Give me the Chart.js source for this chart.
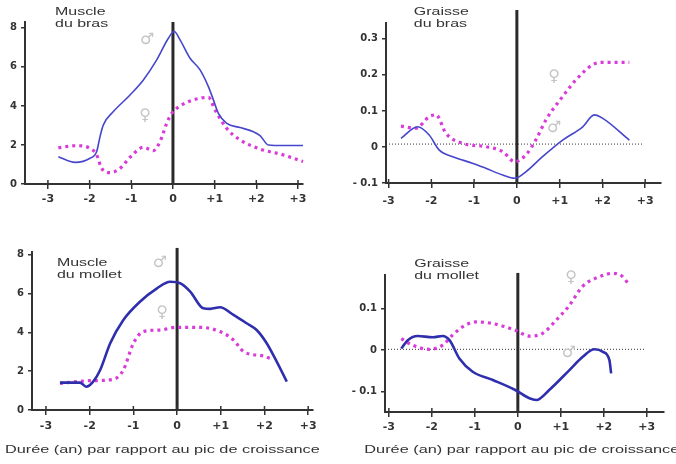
<!DOCTYPE html>
<html lang="fr">
  <head>
    <meta charset="UTF-8" />
    <script src="https://cdn.jsdelivr.net/npm/chart.js@4.4.0/dist/chart.umd.min.js"></script>
    <style>
      body { margin: 0; background: #fff; }
      #page { position: relative; width: 676px; height: 464px; overflow: hidden; }
      .panneau { position: absolute; width: 338px; height: 232px; }
    </style>
  </head>
  <body>
    <div id="page">
      <div class="panneau" style="left:0;top:0"><canvas id="c-muscle-bras"></canvas></div>
      <div class="panneau" style="left:338px;top:0"><canvas id="c-graisse-bras"></canvas></div>
      <div class="panneau" style="left:0;top:232px"><canvas id="c-muscle-mollet"></canvas></div>
      <div class="panneau" style="left:338px;top:232px"><canvas id="c-graisse-mollet"></canvas></div>
    </div>

    <script>
// --- données (x = années par rapport au pic de croissance) ---

// Muscle du bras
var muscleBrasGarconsX = [-2.75, -2.35, -1.99, -1.83, -1.75, -1.67, -1.43, -1.03, -0.71, -0.39, -0.11, 0.03, 0.17, 0.41, 0.65, 0.85, 0.97, 1.09, 1.29, 1.61, 1.93, 2.09, 2.29, 2.65, 3.12];
var muscleBrasGarconsY = [1.4, 1.11, 1.32, 1.66, 2.43, 3.03, 3.71, 4.56, 5.33, 6.36, 7.47, 7.81, 7.38, 6.44, 5.85, 4.99, 4.31, 3.62, 3.11, 2.89, 2.68, 2.48, 2.0, 1.97, 1.97];
var muscleBrasFillesX = [-2.75, -2.31, -1.99, -1.83, -1.71, -1.51, -1.27, -1.03, -0.71, -0.47, -0.31, -0.15, -0.03, 0.17, 0.49, 0.85, 1.01, 1.29, 1.61, 2.09, 2.65, 3.12];
var muscleBrasFillesY = [1.86, 1.96, 1.83, 1.49, 0.8, 0.58, 0.8, 1.37, 1.88, 1.71, 2.17, 3.11, 3.62, 4.0, 4.31, 4.44, 3.79, 2.85, 2.26, 1.79, 1.49, 1.15];

// Graisse du bras
var graisseBrasGarconsX = [-2.71, -2.32, -2.05, -1.82, -1.5, -1.04, -0.73, -0.33, -0.05, 0.21, 0.6, 1.07, 1.54, 1.81, 2.0, 2.63];
var graisseBrasGarconsY = [0.024, 0.056, 0.033, -0.008, -0.027, -0.045, -0.059, -0.078, -0.087, -0.069, -0.027, 0.019, 0.056, 0.089, 0.08, 0.019];
var graisseBrasFillesX = [-2.71, -2.36, -2.05, -1.89, -1.66, -1.27, -0.73, -0.33, -0.05, 0.21, 0.44, 0.68, 1.07, 1.38, 1.77, 2.0, 2.63];
var graisseBrasFillesY = [0.058, 0.052, 0.084, 0.089, 0.038, 0.01, 0.001, -0.013, -0.041, -0.022, 0.019, 0.075, 0.14, 0.186, 0.228, 0.235, 0.235];

// Muscle du mollet
var muscleMolletGarconsX = [-2.68, -2.22, -2.08, -1.92, -1.76, -1.53, -1.23, -0.85, -0.46, -0.16, 0.07, 0.3, 0.6, 0.76, 0.98, 1.29, 1.59, 1.82, 2.05, 2.28, 2.51];
var muscleMolletGarconsY = [1.41, 1.41, 1.2, 1.46, 2.06, 3.44, 4.64, 5.58, 6.27, 6.61, 6.53, 6.1, 5.24, 5.21, 5.29, 4.9, 4.47, 4.12, 3.44, 2.49, 1.46];
var muscleMolletFillesX = [-2.68, -1.99, -1.46, -1.23, -1.0, -0.77, -0.39, -0.01, 0.53, 0.98, 1.29, 1.52, 1.97, 2.13];
var muscleMolletFillesY = [1.37, 1.51, 1.58, 2.06, 3.44, 4.04, 4.12, 4.26, 4.26, 4.04, 3.61, 3.01, 2.78, 2.66];

// Graisse du mollet
var graisseMolletGarconsX = [-2.71, -2.56, -2.33, -1.98, -1.75, -1.59, -1.36, -1.05, -0.58, -0.06, 0.27, 0.43, 0.73, 1.2, 1.51, 1.78, 1.98, 2.13, 2.17];
var graisseMolletGarconsY = [0.004, 0.024, 0.034, 0.031, 0.034, 0.024, -0.02, -0.052, -0.072, -0.096, -0.116, -0.12, -0.096, -0.048, -0.016, 0.002, -0.004, -0.024, -0.056];
var graisseMolletFillesX = [-2.71, -2.45, -2.06, -1.75, -1.52, -1.29, -0.97, -0.58, -0.06, 0.27, 0.57, 0.89, 1.2, 1.5, 1.9, 2.21, 2.44, 2.56];
var graisseMolletFillesY = [0.028, 0.012, 0.002, 0.012, 0.036, 0.056, 0.068, 0.064, 0.048, 0.034, 0.04, 0.072, 0.108, 0.153, 0.177, 0.185, 0.177, 0.161];

// graduations
var xTicks = [-3, -2, -1, 0, 1, 2, 3];
var titres = [["Muscle", "du bras"], ["Graisse", "du bras"], ["Muscle", "du mollet"], ["Graisse", "du mollet"]];
var titreAxe = "Durée (an) par rapport au pic de croissance";

// ligne pointillée y=0 (panneaux graisse)
var baseGraisseBrasX = [-3.06, 2.95];
var baseGraisseMolletX = [-3.09, 2.94];

var BLEU = "#4646cc";
var BLEU_FONCE = "#2f2fae";
var ROSE = "#d93ad9";
var GRIS_TEXTE = "#333";

function points(xs, ys) {
  return xs.map(function(x, i) { return { x: x, y: ys[i] }; });
}

// petits traits au-dessus de l'axe x (les graduations traversent l'axe)
var croixTicks = {
  id: "croixTicks",
  afterDraw: function(chart) {
    var sx = chart.scales.x, ctx = chart.ctx;
    ctx.save();
    ctx.strokeStyle = "#333";
    ctx.lineWidth = 1.5;
    sx.ticks.forEach(function(t) {
      var px = sx.getPixelForValue(t.value);
      ctx.beginPath();
      ctx.moveTo(px, sx.top - 4);
      ctx.lineTo(px, sx.top);
      ctx.stroke();
    });
    ctx.restore();
  }
};

// textes libres (titres, symboles, titre d'axe) placés en coordonnées de données
var textes = {
  id: "textes",
  afterDraw: function(chart, args, opts) {
    var ctx = chart.ctx, sx = chart.scales.x, sy = chart.scales.y;
    (opts.items || []).forEach(function(it) {
      ctx.save();
      ctx.font = it.font;
      ctx.fillStyle = it.color;
      ctx.textAlign = it.align || "left";
      ctx.textBaseline = it.baseline || "top";
      ctx.translate(sx.getPixelForValue(it.x), sy.getPixelForValue(it.y));
      ctx.scale(it.sx || 1, 1);
      it.lignes.forEach(function(l, i) { ctx.fillText(l, 0, i * (it.lh || 12)); });
      ctx.restore();
    });
  }
};

function fmtY(v) {
  if (Math.abs(v) < 1e-9) return "0";
  if (Number.isInteger(Math.round(v * 1000) / 1000) && Math.abs(v) >= 1) return String(Math.round(v));
  var s = Math.abs(v).toFixed(1);
  return v < 0 ? "- " + s : s;
}

function panneau(id, cfg) {
  var datasets = [
    {
      data: points(cfg.garconsX, cfg.garconsY),
      borderColor: cfg.bleu,
      borderWidth: cfg.largeurBleu,
      cubicInterpolationMode: "monotone",
      pointRadius: 0,
      clip: false,
      order: 1
    },
    {
      data: points(cfg.fillesX, cfg.fillesY),
      borderColor: ROSE,
      borderWidth: 3.2,
      borderDash: [3, 4],
      borderCapStyle: "butt",
      cubicInterpolationMode: "monotone",
      pointRadius: 0,
      clip: false,
      order: 2
    },
    {
      // trait vertical au pic de croissance
      data: [{ x: 0, y: cfg.yMin }, { x: 0, y: cfg.zeroHaut }],
      borderColor: "#2a2a2a",
      borderWidth: 3,
      pointRadius: 0,
      clip: false,
      order: 3
    }
  ];
  if (cfg.baseX) {
    datasets.push({
      data: [{ x: cfg.baseX[0], y: cfg.baseY }, { x: cfg.baseX[1], y: cfg.baseY }],
      borderColor: "#333",
      borderWidth: 1,
      borderDash: [1, 2],
      pointRadius: 0,
      order: 4
    });
  }

  var items = [
    { lignes: cfg.titre, x: cfg.titrePos[0], y: cfg.titrePos[1], font: "11px 'Liberation Sans', Arial", color: GRIS_TEXTE, sx: 1.45, lh: 12 },
    { lignes: ["\u2642"], x: cfg.male[0], y: cfg.male[1], font: "16px 'DejaVu Sans'", color: "#c4c4c4", align: "center", baseline: "middle" },
    { lignes: ["\u2640"], x: cfg.femelle[0], y: cfg.femelle[1], font: "16px 'DejaVu Sans'", color: "#c4c4c4", align: "center", baseline: "middle" }
  ];
  if (cfg.axePos) {
    items.push({ lignes: [titreAxe], x: cfg.axePos[0], y: cfg.axePos[1], font: "11px 'Liberation Sans', Arial", color: GRIS_TEXTE, sx: 1.48, baseline: "middle" });
  }

  var ctx = document.getElementById(id).getContext("2d");
  return new Chart(ctx, {
    type: "line",
    data: { datasets: datasets },
    plugins: [croixTicks, textes],
    options: {
      animation: false,
      responsive: true,
      maintainAspectRatio: false,
      layout: { autoPadding: false, padding: { left: 0, top: cfg.zone.top, right: 338 - cfg.zone.right, bottom: 0 } },
      plugins: { legend: { display: false }, tooltip: { enabled: false }, textes: { items: items } },
      scales: {
        x: {
          type: "linear",
          min: cfg.xMin,
          max: cfg.xMax,
          afterFit: function(s) { s.height = 232 - cfg.zone.bottom; },
          afterBuildTicks: function(s) { s.ticks = xTicks.map(function(v) { return { value: v }; }); },
          border: { display: true, color: "#333", width: 2 },
          grid: { drawOnChartArea: false, color: "#333", lineWidth: 1.5, tickLength: 5 },
          ticks: {
            autoSkip: false,
            maxRotation: 0,
            padding: cfg.padX,
            color: GRIS_TEXTE,
            font: { family: "'DejaVu Sans'", size: 11, weight: "bold" },
            callback: function(v) { return v > 0 ? "+" + v : String(v); }
          }
        },
        y: {
          min: cfg.yMin,
          max: cfg.yMax,
          afterFit: function(s) { s.width = cfg.zone.left; },
          afterBuildTicks: function(s) { s.ticks = cfg.yTicks.map(function(v) { return { value: v }; }); },
          border: { display: true, color: "#333", width: 2 },
          grid: { drawOnChartArea: false, color: "#333", lineWidth: 1.5, tickLength: 4 },
          ticks: {
            padding: 4,
            color: GRIS_TEXTE,
            font: { family: "'DejaVu Sans'", size: 10, weight: "bold" },
            callback: fmtY
          }
        }
      }
    }
  });
}

panneau("c-muscle-bras", {
  garconsX: muscleBrasGarconsX, garconsY: muscleBrasGarconsY,
  fillesX: muscleBrasFillesX, fillesY: muscleBrasFillesY,
  bleu: BLEU, largeurBleu: 1.6,
  zone: { left: 25, top: 22, right: 303, bottom: 184 },
  xMin: -3.55, xMax: 3.12, yMin: 0, yMax: 8.3, zeroHaut: 8.3,
  yTicks: [0, 2, 4, 6, 8], padX: 4,
  titre: titres[0], titrePos: [-2.83, 9.08],
  male: [-0.62, 7.38], femelle: [-0.67, 3.5]
});

panneau("c-graisse-bras", {
  garconsX: graisseBrasGarconsX, garconsY: graisseBrasGarconsY,
  fillesX: graisseBrasFillesX, fillesY: graisseBrasFillesY,
  bleu: BLEU, largeurBleu: 1.6,
  zone: { left: 48, top: 23, right: 323, bottom: 183 },
  xMin: -3.06, xMax: 3.37, yMin: -0.1, yMax: 0.344, zeroHaut: 0.38,
  yTicks: [-0.1, 0, 0.1, 0.2, 0.3], padX: 7,
  baseX: baseGraisseBrasX, baseY: 0.008,
  titre: titres[1], titrePos: [-2.41, 0.389],
  male: [0.87, 0.053], femelle: [0.87, 0.194]
});

panneau("c-muscle-mollet", {
  garconsX: muscleMolletGarconsX, garconsY: muscleMolletGarconsY,
  fillesX: muscleMolletFillesX, fillesY: muscleMolletFillesY,
  bleu: BLEU_FONCE, largeurBleu: 2.6,
  zone: { left: 32, top: 20, right: 313, bottom: 178 },
  xMin: -3.32, xMax: 3.11, yMin: 0, yMax: 8.14, zeroHaut: 8.35,
  yTicks: [0, 2, 4, 6, 8], padX: 5,
  titre: titres[2], titrePos: [-2.75, 7.84],
  male: [-0.39, 7.58], femelle: [-0.34, 5.0],
  axePos: [-3.94, -2.06]
});

panneau("c-graisse-mollet", {
  garconsX: graisseMolletGarconsX, garconsY: graisseMolletGarconsY,
  fillesX: graisseMolletFillesX, fillesY: graisseMolletFillesY,
  bleu: BLEU_FONCE, largeurBleu: 2.6,
  zone: { left: 47, top: 43, right: 326, bottom: 180 },
  xMin: -3.09, xMax: 3.4, yMin: -0.149, yMax: 0.181, zeroHaut: 0.186,
  yTicks: [-0.1, 0, 0.1], padX: 4,
  baseX: baseGraisseMolletX, baseY: 0.002,
  titre: titres[3], titrePos: [-2.41, 0.222],
  male: [1.19, -0.007], femelle: [1.24, 0.173],
  axePos: [-3.57, -0.241]
});
    </script>
  </body>
</html>
